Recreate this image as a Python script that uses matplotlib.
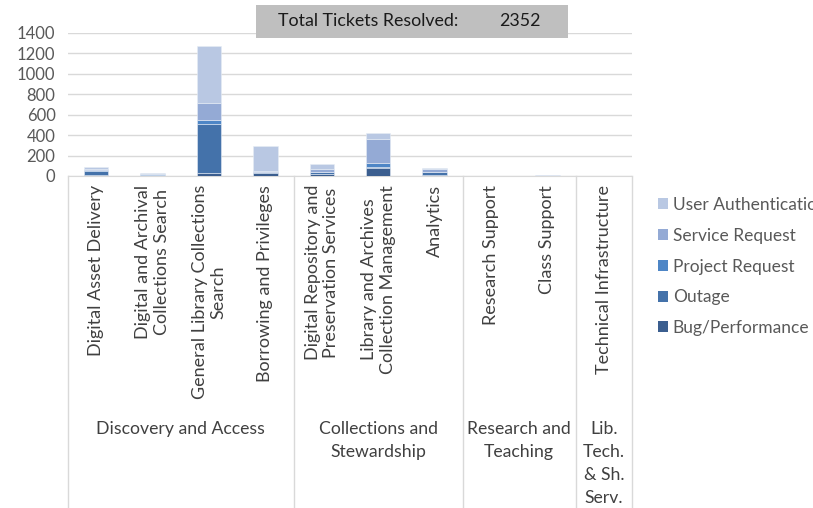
import matplotlib
matplotlib.use("Agg")
import matplotlib.pyplot as plt
import matplotlib.transforms as mtransforms
from matplotlib.patches import Rectangle, Patch
import numpy as np

plt.rcParams['font.family'] = ['Lato', 'DejaVu Sans']

categories = [
    "Digital Asset Delivery",
    "Digital and Archival\nCollections Search",
    "General Library Collections\nSearch",
    "Borrowing and Privileges",
    "Digital Repository and\nPreservation Services",
    "Library and Archives\nCollection Management",
    "Analytics",
    "Research Support",
    "Class Support",
    "Technical Infrastructure",
]
groups = ["Discovery and Access", "Collections and\nStewardship", "Research and\nTeaching", "Lib.\nTech.\n& Sh.\nServ."]
group_sizes = [4, 3, 2, 1]

series_names = ["Bug/Performance", "Outage", "Project Request", "Service Request", "User Authentication"]
bug = [5, 3, 26, 30, 20, 80, 5, 0, 1, 1]
outage = [45, 10, 479, 5, 20, 5, 30, 0, 1, 1]
project = [10, 2, 42, 2, 2, 38, 0, 0, 1, 0]
service = [8, 6, 163, 12, 25, 237, 30, 1, 1, 1]
user_auth = [22, 5, 563, 245, 53, 60, 10, 0, 1, 1]
total_resolved = 2352

colors = ["#3b5e8f", "#4472aa", "#4e86c6", "#94aad5", "#b9c8e3"]
series = [bug, outage, project, service, user_auth]

W, H = 813, 508
fig = plt.figure(figsize=(W / 100, H / 100), dpi=100)
ax = fig.add_axes([68 / W, (H - 176) / H, 564 / W, (176 - 32.7) / H])

x = np.arange(len(categories))
bottom = np.zeros(len(categories))
handles = []
for vals, col, name in zip(series, colors, series_names):
    ax.bar(x, vals, width=0.43, bottom=bottom, color=col, edgecolor="#e6ecf5", linewidth=0.4, zorder=3)
    bottom += np.array(vals)
    handles.append(Patch(facecolor=col, edgecolor="none", label=name))

ax.set_xlim(-0.5, len(categories) - 0.5)
ax.set_ylim(0, 1400)
ax.set_yticks(range(0, 1401, 200))
ax.tick_params(axis='y', length=0, pad=9, labelsize=12, labelcolor="#595959")
ax.set_xticks([])
for s in ["top", "right", "left"]:
    ax.spines[s].set_visible(False)
ax.spines["bottom"].set_color("#d9d9d9")
ax.grid(axis='y', color="#d9d9d9", linewidth=1, zorder=0)

trans = mtransforms.blended_transform_factory(ax.transData, fig.transFigure)

def fy(px):
    return 1 - px / H

# category labels
for xi, lab in zip(x, categories):
    fig.text(xi, fy(185), lab, transform=trans, rotation=90, ha='center', va='top',
             multialignment='center', fontsize=13, color="#404040", linespacing=1.2)

# group separators and labels
edges = [-0.5]
for g in group_sizes:
    edges.append(edges[-1] + g)
for e in edges:
    ax.plot([e, e], [fy(176), fy(520)], transform=trans, color="#d9d9d9", linewidth=1, clip_on=False)
for i, g in enumerate(groups):
    cx = (edges[i] + edges[i + 1]) / 2
    fig.text(cx, fy(421), g, transform=trans, ha='center', va='top', multialignment='center',
             fontsize=12.7, color="#404040", linespacing=1.55)

# title box
fig.patches.append(Rectangle((256 / W, fy(38)), (568 - 256) / W, 33 / H, transform=fig.transFigure,
                             facecolor="#bfbfbf", edgecolor="none"))
fig.text(278 / W, fy(21.5), "Total Tickets Resolved:", ha='left', va='center', fontsize=12.8, color="#1a1a1a")
fig.text(520 / W, fy(21.5), str(total_resolved), ha='center', va='center', fontsize=12.8, color="#1a1a1a")

fig.legend(handles=handles[::-1], loc='upper left', bbox_to_anchor=(658 / W, fy(197)), frameon=False,
           fontsize=12.5, labelcolor="#595959", handlelength=0.6, handleheight=0.6, handletextpad=0.25,
           labelspacing=0.85, borderpad=0, borderaxespad=0)

fig.savefig("out.png", dpi=100)
